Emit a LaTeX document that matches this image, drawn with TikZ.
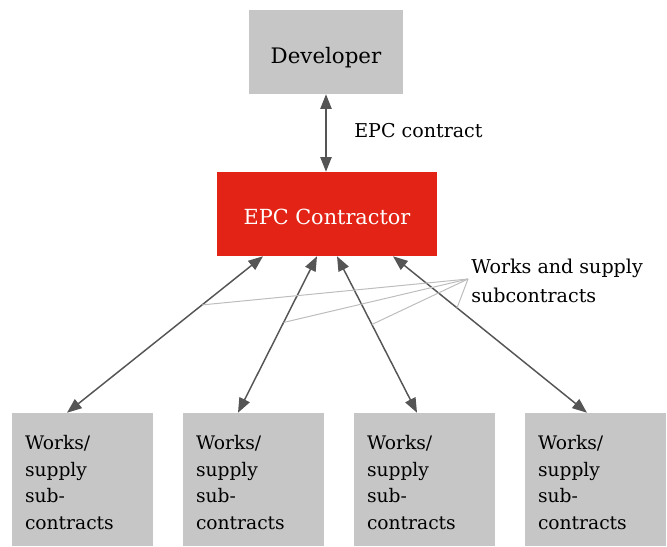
\documentclass[tikz,border=0pt]{standalone}
\usepackage{fontspec}
\setmainfont{DejaVu Serif}
\usetikzlibrary{arrows.meta,calc}
\definecolor{boxgrey}{HTML}{C6C6C6}
\definecolor{epcred}{HTML}{E32315}
\definecolor{arrowgrey}{HTML}{555555}
\definecolor{leadergrey}{HTML}{BDBDBD}

\begin{document}
\begin{tikzpicture}[x=0.75pt,y=-0.75pt,
  topbox/.style={fill=boxgrey, minimum width=115.5pt, minimum height=63pt,
    inner sep=0pt, text height=16.5pt, text depth=0pt,
    font=\fontsize{16pt}{19pt}\selectfont},
  mainbox/.style={fill=epcred, text=white, minimum width=165pt, minimum height=63pt,
    inner sep=0pt, text height=16pt, text depth=0pt,
    font=\fontsize{15.6pt}{19pt}\selectfont},
  subbox/.style={fill=boxgrey, minimum width=105.75pt, minimum height=99.75pt,
    text width=86.25pt, inner xsep=9.75pt, inner ysep=0pt, align=left,
    text height=15pt, text depth=60pt,
    font=\fontsize{14pt}{20pt}\selectfont},
  label/.style={inner sep=0pt, align=left, font=\fontsize{14.3pt}{21.75pt}\selectfont},
  link/.style={draw=arrowgrey, line width=1.1pt,
    {Triangle[length=11pt,width=8.5pt]}-{Triangle[length=11pt,width=8.5pt]}},
  leader/.style={draw=leadergrey, line width=0.75pt}
]
\useasboundingbox (0,0) rectangle (667,546);

% boxes
\node[topbox]  (dev) at (326,52)  {Developer};
\node[mainbox] (epc) at (327,214) {EPC Contractor};
\foreach \i/\cx in {1/82.5, 2/253.5, 3/424.5, 4/595.5}
  \node[subbox] (sub\i) at (\cx,479.5) {Works/\\supply\\sub-\\contracts};

% labels (base anchor of a two-line label sits on its last line)
\node[label, anchor=west] (epclbl) at (354,131) {EPC contract};
\node[label, anchor=base west] (sublbl) at (471,302) {Works and supply\\subcontracts};
\coordinate (lead) at (468,279);

% contract links
\draw[link] (dev.south) -- (dev.south |- epc.north);
\draw[link] ($(sub1.north)+(-15.5,0)$) -- coordinate[pos=0.689] (h1) ($(epc.south)+(-64,0)$);
\draw[link] ($(sub2.north)+(-15.5,0)$) -- coordinate[pos=0.577] (h2) ($(epc.south)+(-10,0)$);
\draw[link] ($(sub3.north)+(-7.5,0)$)  -- coordinate[pos=0.564] (h3) ($(epc.south)+(10,0)$);
\draw[link] ($(sub4.north)+(-8.5,0)$)  -- coordinate[pos=0.67]  (h4) ($(epc.south)+(66,0)$);

% leader lines from the subcontract label
\foreach \h in {h1,h2,h3,h4}
  \draw[leader] (lead) -- (\h);
\end{tikzpicture}
\end{document}
